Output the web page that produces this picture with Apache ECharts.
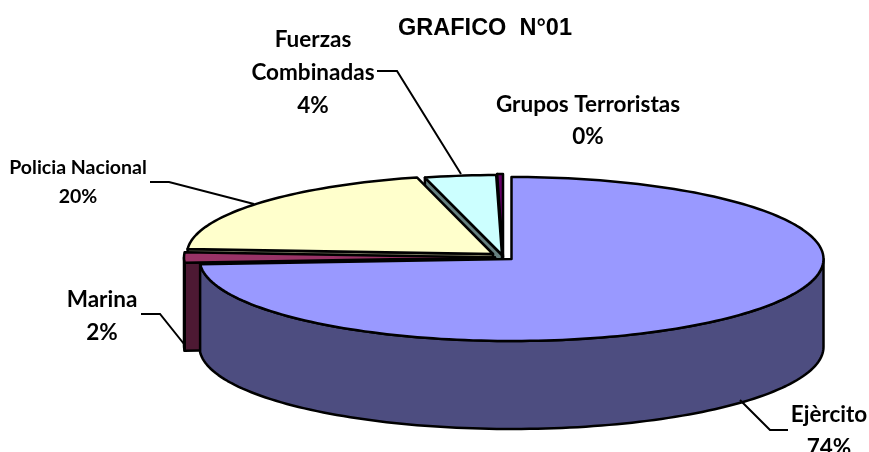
<!DOCTYPE html>
<html>
<head>
<meta charset="utf-8">
<style>html,body{margin:0;padding:0;background:#fff}#c{width:869px;height:452px}</style>
<script src="https://cdn.jsdelivr.net/npm/echarts@6/dist/echarts.min.js"></script>
</head>
<body>
<div id="c"></div>
<script>
// Data
const categories = ['Ejèrcito', 'Marina', 'Policia Nacional', 'Fuerzas\nCombinadas', 'Grupos Terroristas'];
const values = [74, 2, 20, 3.7, 0.3];
const percentLabels = ['74%', '2%', '20%', '4%', '0%'];

// Styles & layout (per slice, same order as the data)
const topColors = ['#9999FF', '#993366', '#FFFFCC', '#CCFFFF', '#660066'];
const wallColors = ['#4D4D80', '#4D1933', '#808066', '#668080', '#330033'];
const geometry = [
  {cx: 511.5, cy: 259, rx: 312, ry: 82},
  {cx: 495, cy: 257.5, rx: 311, ry: 82},
  {cx: 493, cy: 254, rx: 306, ry: 79},
  {cx: 502, cy: 255, rx: 310, ry: 80},
  {cx: 503, cy: 257, rx: 310, ry: 83}
];
const paintOrder = [4, 3, 2, 1, 0];   // back to front
const depth = 88;
const labelStyle = [
  {x: 829, y: 431, size: 22.5, lh: 33},
  {x: 102, y: 316, size: 22.5, lh: 33},
  {x: 78, y: 182, size: 19.5, lh: 29},
  {x: 313, y: 72.5, size: 22.5, lh: 33},
  {x: 588, y: 120.5, size: 22.5, lh: 32}
];
const leaders = [
  [[740, 400], [770, 430], [788, 430]],
  [[141, 314], [160, 314], [184, 344]],
  [[150, 182], [169, 182], [254, 204]],
  [[377, 71], [397, 71], [461, 174]],
  []
];

const total = values.reduce((a, b) => a + b, 0);
const RAD = Math.PI / 180;

function pt(g, deg, dy) {
  return [g.cx + g.rx * Math.sin(deg * RAD), g.cy - g.ry * Math.cos(deg * RAD) + (dy || 0)];
}
function arc(g, a, b, dy) {
  const n = Math.max(2, Math.ceil(Math.abs(b - a) / 1.5));
  const out = [];
  for (let i = 0; i <= n; i++) out.push(pt(g, a + (b - a) * i / n, dy));
  return out;
}
function poly(points, fill, z2) {
  return {
    type: 'polygon', z2: z2, silent: true,
    shape: {points: points},
    style: {fill: fill, stroke: '#000', lineWidth: 2.5, lineJoin: 'round'}
  };
}

function renderItem(params, api) {
  const i = params.dataIndex;
  const g = geometry[i];
  let before = 0;
  for (let k = 0; k < i; k++) before += values[k];
  const a = before / total * 360;
  const b = (before + api.value(0)) / total * 360;
  const base = paintOrder.indexOf(i) * 10 + 1;
  const apex = [g.cx, g.cy];
  const apexLow = [g.cx, g.cy + depth];
  const children = [];

  // cut faces that look towards the viewer
  if (Math.sin(a * RAD) < -1e-6) {
    children.push(poly([apex, pt(g, a), pt(g, a, depth), apexLow], wallColors[i], base));
  }
  if (Math.sin(b * RAD) > 1e-6) {
    children.push(poly([apex, pt(g, b), pt(g, b, depth), apexLow], wallColors[i], base));
  }
  // outer rim (front half only)
  const r0 = Math.max(a, 90), r1 = Math.min(b, 270);
  if (r1 > r0) {
    const top = arc(g, r0, r1, 0);
    const low = arc(g, r1, r0, depth);
    children.push(poly(top.concat(low), wallColors[i], base + 1));
  }
  // top face
  children.push(poly([apex].concat(arc(g, a, b, 0)), topColors[i], base + 2));

  // leader and label
  if (leaders[i].length) {
    children.push({
      type: 'polyline', z2: 100, silent: true,
      shape: {points: leaders[i]},
      style: {fill: null, stroke: '#000', lineWidth: 2}
    });
  }
  const L = labelStyle[i];
  children.push({
    type: 'text', z2: 101, silent: true, x: L.x, y: L.y,
    style: {
      text: categories[i] + '\n' + percentLabels[i],
      fill: '#000', align: 'center', verticalAlign: 'middle',
      font: 'bold ' + L.size + 'px Lato', lineHeight: L.lh
    }
  });
  return {type: 'group', children: children};
}

const chart = echarts.init(document.getElementById('c'), null, {renderer: 'canvas'});
chart.setOption({
  animation: false,
  backgroundColor: '#fff',
  title: {
    text: 'GRAFICO  N°01',
    left: 480, top: 12, textAlign: 'center',
    textStyle: {fontFamily: 'Liberation Sans', fontWeight: 'bold', fontSize: 23.5, color: '#000'}
  },
  series: [{
    type: 'custom',
    coordinateSystem: 'none',
    clip: false,
    renderItem: renderItem,
    data: values.map(v => [v])
  }]
});
</script>
</body>
</html>
